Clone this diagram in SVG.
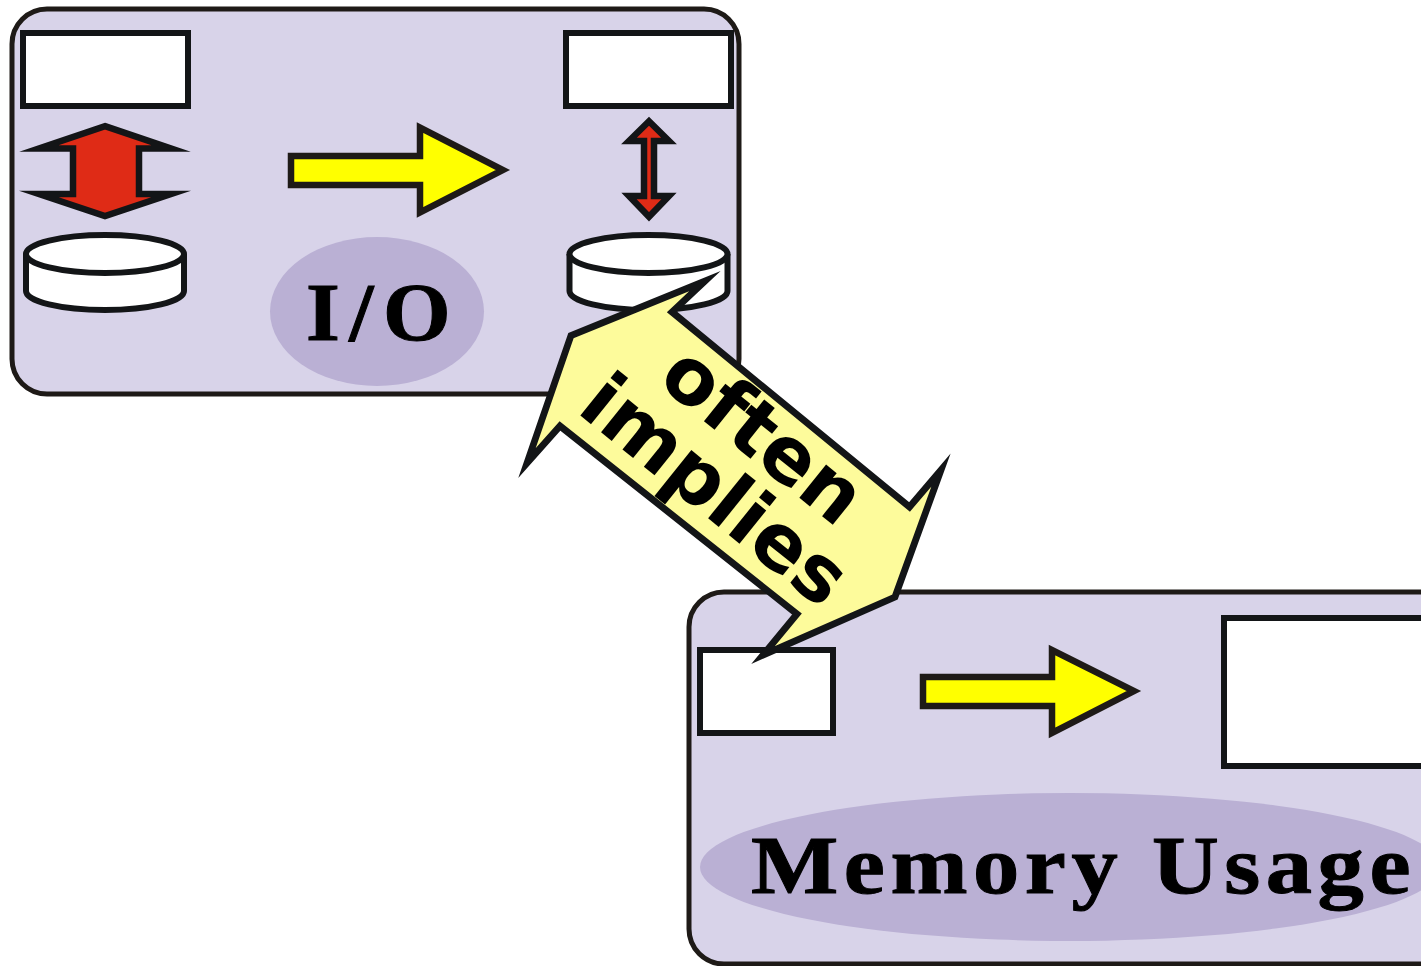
<svg xmlns="http://www.w3.org/2000/svg" width="1421" height="966" viewBox="0 0 1421 966">
<style>
.panel{fill:#d8d3e9;stroke:#1e1a17;stroke-width:5}
.box{fill:#fff;stroke:#131517;stroke-width:6}
.oval{fill:#bab0d4}
.disk{fill:#fff;stroke:#131517;stroke-width:6}
.red{fill:#df2b16;stroke:#131517;stroke-width:6.500;stroke-miterlimit:12}
.yel{fill:#ffff00;stroke:#1e1a17;stroke-width:6.500;stroke-miterlimit:12}
.big{fill:#fdfb9b;stroke:#131517;stroke-width:6.800;stroke-miterlimit:12}
.lab{font-family:"Liberation Serif",serif;font-weight:700;font-size:83px;fill:#000;stroke:#000;stroke-width:1;letter-spacing:5px}
.bigt{font-family:"DejaVu Sans",sans-serif;font-weight:700;font-size:78px;fill:#000}
</style>
<g id="panel-io">
<rect class="panel" x="12" y="9" width="727" height="385" rx="35"/>
<rect class="box" x="23" y="33" width="165" height="73"/>
<rect class="box" x="566" y="33" width="165" height="73"/>
<path class="red" d="M105 126.200L171 148.500H139V194H171L105 216L39 194H73V148.500H39Z"/>
<path class="red" d="M649 121.300L669 141H654V196H669L649 216.800L629 196H644V141H629Z"/>
<path class="yel" d="M291 156H420V127.500L503 170L420 212.500V185H291Z"/>
<ellipse class="oval" cx="377" cy="311.500" rx="107" ry="74.500"/>
<text class="lab" x="306" y="340" textLength="154" lengthAdjust="spacingAndGlyphs" style="letter-spacing:9px">I/O</text>
<path class="disk" d="M26 254V291C26 301.500 61 310 105 310S184 301.500 184 291V254"/>
<ellipse class="disk" cx="105" cy="254" rx="79" ry="19"/>
<path class="disk" d="M569.500 254V291C569.500 301.500 604.500 310 648.500 310S727.500 301.500 727.500 291V254"/>
<ellipse class="disk" cx="648.500" cy="254" rx="79" ry="19"/>
</g>
<g id="panel-memory">
<rect class="panel" x="689" y="592" width="780" height="372" rx="35"/>
<rect class="box" x="700" y="650" width="133" height="83"/>
<rect class="box" x="1224" y="618" width="220" height="148"/>
<path class="yel" d="M923 677H1052V650L1134 691L1052 733V706H923Z"/>
<ellipse class="oval" cx="1070" cy="867" rx="370" ry="74"/>
<text class="lab" x="751" y="893" textLength="665" lengthAdjust="spacingAndGlyphs">Memory Usage</text>
</g>
<g id="connectors">
<path class="big" d="M705 281L672 312L909.500 507L941 470L895 597L763 655L797 614L560 426L527 463L571 335.500Z"/>
<g transform="translate(-26 31) rotate(38.800 760 440)">
<text class="bigt" x="760" y="420" text-anchor="middle">often</text>
</g>
<g transform="translate(1 49) rotate(38.800 760 440)">
<text class="bigt" x="725" y="496" text-anchor="middle">implies</text>
</g>
</g>
</svg>
